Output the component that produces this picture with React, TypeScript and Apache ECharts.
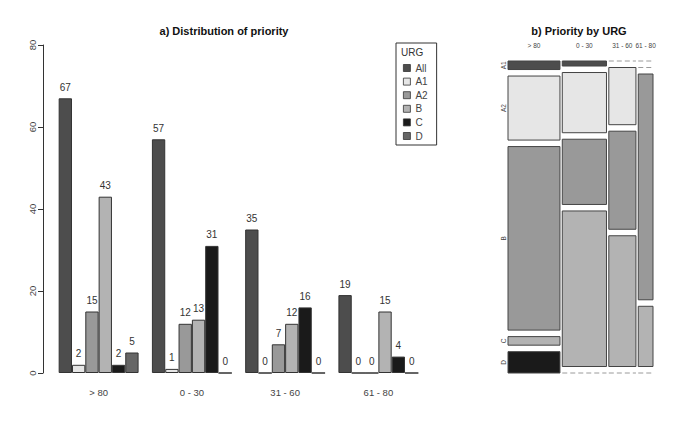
import React, { useEffect, useRef } from "react";
import * as echarts from "echarts";

const categories = ["> 80", "0 - 30", "31 - 60", "61 - 80"];
const seriesNames = ["All", "A1", "A2", "B", "C", "D"];
const valuesAll = [67, 57, 35, 19];
const valuesA1 = [2, 1, 0, 0];
const valuesA2 = [15, 12, 7, 0];
const valuesB = [43, 13, 12, 15];
const valuesC = [2, 31, 16, 4];
const valuesD = [5, 0, 0, 0];
const yTicks = [0, 20, 40, 60, 80];
const palette = ["#4d4d4d", "#e6e6e6", "#999999", "#b3b3b3", "#1a1a1a", "#666666"];

const seriesValues = [valuesAll, valuesA1, valuesA2, valuesB, valuesC, valuesD];
const mosaicRows = ["A1", "A2", "B", "C", "D"];
const mosaicCounts = [valuesA1, valuesA2, valuesB, valuesC, valuesD];

const FONT = "'Liberation Sans', Arial, Helvetica, sans-serif";

function buildMosaic() {
  const gapX = 0.016;
  const gapY = 6.5 / 312;
  const colTotals = categories.map((_, j) =>
    mosaicCounts.reduce((s, arr) => s + arr[j], 0)
  );
  const grand = colTotals.reduce((s, v) => s + v, 0);
  const usableX = 1 - gapX * (categories.length - 1);
  const usableY = 1 - gapY * (mosaicRows.length - 1);
  const cells: any[] = [];
  const topLabels: any[] = [];
  const leftLabels: any[] = [];
  let x = 0;
  categories.forEach((cat, j) => {
    const w = (usableX * colTotals[j]) / grand;
    let y = 0;
    mosaicRows.forEach((row, i) => {
      const n = mosaicCounts[i][j];
      const h = (usableY * n) / colTotals[j];
      cells.push([x, y, x + w, y + h, i, n === 0 ? 1 : 0]);
      if (j === 0) leftLabels.push([0, y + h / 2, i]);
      y += h + gapY;
    });
    topLabels.push([x + w / 2, 0, j]);
    x += w + gapX;
  });
  return { cells, topLabels, leftLabels };
}

export default function App() {
  const ref = useRef<HTMLDivElement>(null);
  useEffect(() => {
    if (!ref.current) return;
    const chart = echarts.init(ref.current, undefined, { renderer: "svg" });
    const { cells, topLabels, leftLabels } = buildMosaic();

    const barSeries = seriesNames.map((name, k) => ({
      type: "bar",
      name,
      xAxisIndex: 0,
      yAxisIndex: 0,
      data: seriesValues[k],
      barGap: "0%",
      barCategoryGap: "14.3%",
      itemStyle: { color: palette[k], borderColor: "#333", borderWidth: 1 },
      label: {
        show: true,
        position: "top",
        distance: 6,
        fontSize: 10,
        fontFamily: FONT,
        color: "#333",
      },
    }));

    const option: any = {
      animation: false,
      backgroundColor: "#ffffff",
      textStyle: { fontFamily: FONT },
      title: [
        {
          text: "a) Distribution of priority",
          left: 219,
          top: 20,
          textAlign: "center",
          textStyle: { fontSize: 11, fontWeight: "bold", color: "#111", fontFamily: FONT },
        },
        {
          text: "b) Priority by URG",
          left: 574,
          top: 20,
          textAlign: "center",
          textStyle: { fontSize: 11, fontWeight: "bold", color: "#111", fontFamily: FONT },
        },
      ],
      legend: {
        orient: "vertical",
        left: 396,
        top: 43,
        data: seriesNames,
        icon: "rect",
        itemWidth: 7,
        itemHeight: 7,
        itemGap: 3.6,
        padding: [20, 9, 4, 7],
        borderColor: "#333",
        borderWidth: 1,
        itemStyle: { borderWidth: 0.8, borderColor: "#333" },
        textStyle: { fontSize: 10, color: "#444", fontFamily: FONT },
        selectedMode: false,
      },
      grid: [
        { left: 52, top: 45, width: 373, height: 328 },
        { left: 508, top: 61, width: 145, height: 312 },
      ],
      xAxis: [
        {
          type: "category",
          gridIndex: 0,
          data: categories,
          axisLine: { show: false },
          axisTick: { show: false },
          axisLabel: { fontSize: 9.5, color: "#444", margin: 14, fontFamily: FONT },
        },
        { type: "value", gridIndex: 1, min: 0, max: 1, show: false },
      ],
      yAxis: [
        {
          type: "value",
          gridIndex: 0,
          min: yTicks[0],
          max: yTicks[yTicks.length - 1],
          interval: 20,
          offset: 9,
          axisLine: { show: true, lineStyle: { color: "#333" } },
          axisTick: { show: true, length: 5, lineStyle: { color: "#333" } },
          splitLine: { show: false },
          axisLabel: { rotate: 90, fontSize: 9.5, color: "#444", margin: 6, fontFamily: FONT },
        },
        { type: "value", gridIndex: 1, min: 0, max: 1, inverse: true, show: false },
      ],
      graphic: [
        {
          type: "text",
          left: 401,
          top: 47,
          style: { text: "URG", fontSize: 10, fill: "#333", fontFamily: FONT },
        },
      ],
      series: [
        ...barSeries,
        {
          type: "custom",
          name: "mosaic",
          xAxisIndex: 1,
          yAxisIndex: 1,
          silent: true,
          data: cells,
          renderItem: (params: any, api: any) => {
            const p0 = api.coord([api.value(0), api.value(1)]);
            const p1 = api.coord([api.value(2), api.value(3)]);
            const row = api.value(4);
            const zero = api.value(5);
            if (zero) {
              return {
                type: "line",
                shape: { x1: p0[0], y1: p0[1], x2: p1[0], y2: p0[1] },
                style: { stroke: "#9a9a9a", lineWidth: 1, lineDash: [5, 3] },
              };
            }
            return {
              type: "rect",
              shape: { x: p0[0], y: p0[1], width: p1[0] - p0[0], height: p1[1] - p0[1] },
              style: { fill: palette[row], stroke: "#444", lineWidth: 1 },
            };
          },
        },
        {
          type: "custom",
          name: "mosaicTop",
          xAxisIndex: 1,
          yAxisIndex: 1,
          silent: true,
          data: topLabels,
          renderItem: (params: any, api: any) => {
            const p = api.coord([api.value(0), api.value(1)]);
            return {
              type: "text",
              x: p[0],
              y: p[1] - 16,
              style: {
                text: categories[api.value(2)],
                fontSize: 6.5,
                fontFamily: FONT,
                fill: "#444",
                align: "center",
                verticalAlign: "middle",
              },
            };
          },
        },
        {
          type: "custom",
          name: "mosaicLeft",
          xAxisIndex: 1,
          yAxisIndex: 1,
          silent: true,
          data: leftLabels,
          renderItem: (params: any, api: any) => {
            const p = api.coord([api.value(0), api.value(1)]);
            return {
              type: "text",
              x: p[0] - 5,
              y: p[1],
              rotation: Math.PI / 2,
              style: {
                text: mosaicRows[api.value(2)],
                fontSize: 6.5,
                fontFamily: FONT,
                fill: "#444",
                align: "center",
                verticalAlign: "middle",
              },
            };
          },
        },
      ],
    };
    chart.setOption(option);
    return () => chart.dispose();
  }, []);
  return (
    <div
      ref={ref}
      style={{ position: "fixed", left: 0, top: 0, width: 685, height: 430, background: "#fff" }}
    />
  );
}
